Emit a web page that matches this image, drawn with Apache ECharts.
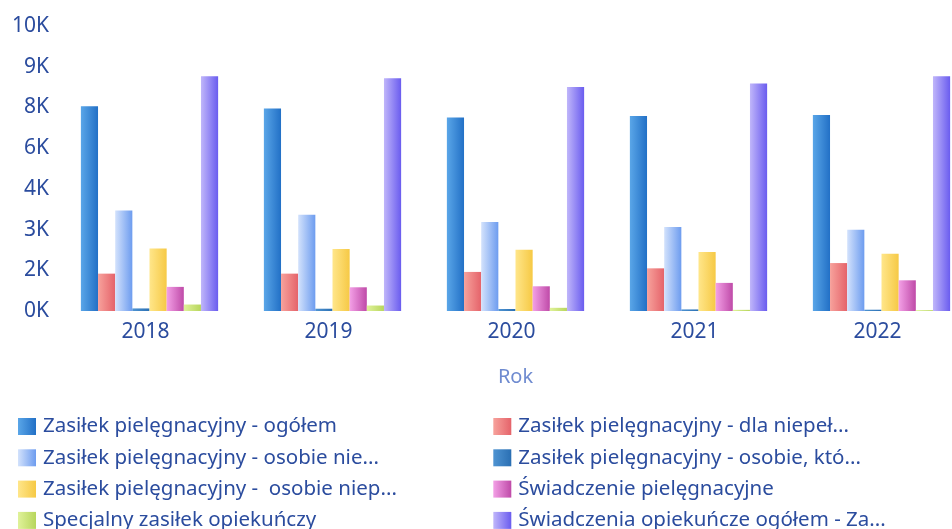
<!DOCTYPE html>
<html>
<head>
<meta charset="utf-8">
<script src="https://cdn.jsdelivr.net/npm/echarts@6/dist/echarts.min.js"></script>
<style>
  html, body { margin: 0; padding: 0; background: #ffffff; overflow: hidden; }
  /* plot area runs slightly past the right edge of the page */
  #chart { width: 980px; height: 529px; }
</style>
</head>
<body>
<div id="chart"></div>
<script>
// Years on the category axis
const years = ['2018', '2019', '2020', '2021', '2022'];

// Value-axis tick labels, one per gridline step from the bottom
const tickLabels = ['0K', '2K', '3K', '4K', '6K', '8K', '9K', '10K'];

// Series names as shown in the legend
const seriesNames = [
  'Zasiłek pielęgnacyjny - ogółem',
  'Zasiłek pielęgnacyjny - dla niepeł...',
  'Zasiłek pielęgnacyjny - osobie nie...',
  'Zasiłek pielęgnacyjny - osobie, któ...',
  'Zasiłek pielęgnacyjny -  osobie niep...',
  'Świadczenie pielęgnacyjne',
  'Specjalny zasiłek opiekuńczy',
  'Świadczenia opiekuńcze ogółem - Za...'
];

// Values per series, 2018–2022
const zasilekOgolem     = [7185, 7105, 6790, 6846, 6881];
const zasilekDlaNiepel  = [1311, 1311, 1371, 1497, 1682];
const zasilekOsobieNie  = [3524, 3374, 3119, 2944, 2850];
const zasilekOsobieKto  = [90, 80, 70, 55, 45];
const zasilekOsobieNiep = [2196, 2175, 2150, 2070, 2010];
const swiadczeniePiel   = [846, 832, 867, 986, 1077];
const specjalnyZasilek  = [227, 192, 112, 40, 30];
const swiadczeniaOgolem = [8234, 8164, 7860, 7979, 8234];

const seriesValues = [
  zasilekOgolem, zasilekDlaNiepel, zasilekOsobieNie, zasilekOsobieKto,
  zasilekOsobieNiep, swiadczeniePiel, specjalnyZasilek, swiadczeniaOgolem
];

// Light-to-dark horizontal shading for each bar colour
const palette = [
  ['#5aa6e8', '#2270c6'],
  ['#f7a29c', '#e5636a'],
  ['#d3e2fc', '#6d9cef'],
  ['#4f94d2', '#2a6fb3'],
  ['#ffe68a', '#f6c945'],
  ['#f3a0e6', '#bf4aa8'],
  ['#e0f29a', '#b7d65c'],
  ['#c0b6fa', '#6a5cef']
];

function shade(pair) {
  return new echarts.graphic.LinearGradient(0, 0, 1, 0, [
    { offset: 0, color: pair[0] },
    { offset: 1, color: pair[1] }
  ]);
}

const axisMax = 10000;
const axisStep = axisMax / (tickLabels.length - 1);

const textBlue = '#2b4c9e';
const fontFamily = '"Noto Sans", "Open Sans", sans-serif';

const chart = echarts.init(document.getElementById('chart'), null, { renderer: 'canvas' });

chart.setOption({
  backgroundColor: '#ffffff',
  animation: false,
  grid: {
    left: 58,
    top: 26,
    right: 7,
    height: 285,
    containLabel: false
  },
  legend: {
    left: 18,
    top: 416,
    width: 950,
    padding: 0,
    orient: 'horizontal',
    itemWidth: 18,
    itemHeight: 17,
    itemGap: 10.3,
    icon: 'rect',
    data: seriesNames,
    textStyle: {
      color: textBlue,
      fontFamily: fontFamily,
      fontSize: 20.5,
      lineHeight: 20,
      width: 440,
      padding: [0, 0, 0, 2],
      overflow: 'truncate'
    }
  },
  xAxis: {
    type: 'category',
    data: years,
    name: 'Rok',
    nameLocation: 'middle',
    nameGap: 56,
    nameTextStyle: {
      color: '#6f8bd0',
      fontFamily: fontFamily,
      fontSize: 20
    },
    axisLine: { show: false },
    axisTick: { show: false },
    axisLabel: {
      color: textBlue,
      fontFamily: fontFamily,
      fontSize: 21,
      margin: 11,
      padding: [0, 8, 0, 0]
    },
    splitLine: { show: false }
  },
  yAxis: {
    type: 'value',
    min: 0,
    max: axisMax,
    interval: axisStep,
    axisLine: { show: false },
    axisTick: { show: false },
    splitLine: { show: false },
    axisLabel: {
      color: textBlue,
      fontFamily: fontFamily,
      fontSize: 21,
      margin: 9,
      formatter: function (v) {
        return tickLabels[Math.round(v / axisStep)];
      }
    }
  },
  series: seriesNames.map(function (name, i) {
    return {
      name: name,
      type: 'bar',
      data: seriesValues[i],
      barGap: '0%',
      barCategoryGap: '25%',
      itemStyle: { color: shade(palette[i]) }
    };
  })
});
</script>
</body>
</html>
